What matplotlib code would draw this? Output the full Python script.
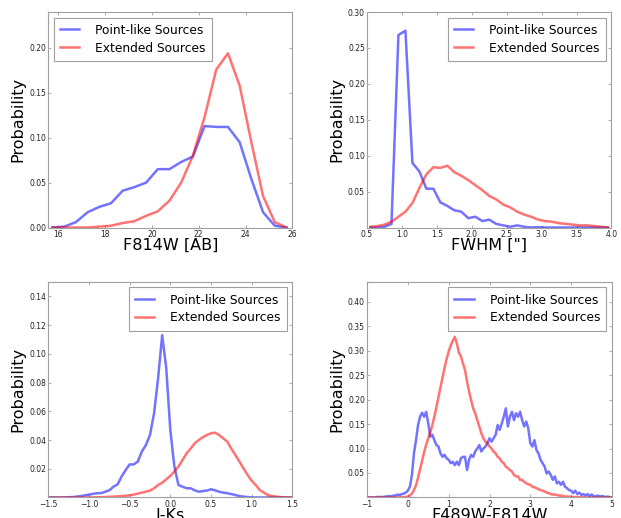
import numpy as np
from matplotlib import pyplot as plt

# F814W magnitude histogram
mag_bins = [15.75, 16.25, 16.75, 17.25, 17.75, 18.25, 18.75, 19.25, 19.75, 20.25, 20.75,
            21.25, 21.75, 22.25, 22.75, 23.25, 23.75, 24.25, 24.75, 25.25, 25.75]
mag_point = [0.0, 0.001, 0.006, 0.017, 0.023, 0.027, 0.041, 0.045, 0.050, 0.065, 0.065,
             0.073, 0.079, 0.113, 0.112, 0.112, 0.095, 0.054, 0.017, 0.002, 0.0]
mag_ext = [0.0, 0.0, 0.0, 0.0, 0.001, 0.002, 0.005, 0.007, 0.013, 0.018, 0.030,
           0.050, 0.080, 0.123, 0.176, 0.194, 0.158, 0.095, 0.035, 0.006, 0.0]

# FWHM histogram, bins of 0.1" from 0.5 to 4.0
fwhm_bins = np.linspace(0.55, 3.95, 35)
fwhm_point = [0.0, 0.0, 0.001, 0.005, 0.268,
              0.274, 0.090, 0.078, 0.054, 0.054, 0.035, 0.030, 0.024, 0.022, 0.013,
              0.015, 0.009, 0.011, 0.005, 0.003, 0.001, 0.003, 0.001, 0.0, 0.0005,
              0.0, 0.0, 0.0, 0.0, 0.0, 0.0, 0.0, 0.0, 0.0, 0.0]
fwhm_ext = [0.001, 0.002, 0.004, 0.008, 0.015,
            0.022, 0.034, 0.055, 0.074, 0.084, 0.083, 0.086, 0.077, 0.072, 0.066,
            0.059, 0.052, 0.044, 0.039, 0.032, 0.028, 0.022, 0.018, 0.015, 0.011,
            0.009, 0.008, 0.006, 0.005, 0.004, 0.003, 0.003, 0.002, 0.001, 0.0]

# I-Ks colour histogram, bins of 0.05 from -1.5 to 1.5
iks_bins = np.linspace(-1.5, 1.5, 61)
iks_point = [0.0, 0.0, 0.0, 0.0, 0.0, 0.0002, 0.0003, 0.0006, 0.001, 0.0015, 0.002,
             0.0025, 0.003, 0.003, 0.004, 0.005, 0.0075, 0.009, 0.0145, 0.019, 0.023,
             0.023, 0.025, 0.032, 0.0365, 0.0435, 0.0585, 0.083, 0.113, 0.090, 0.047,
             0.0215, 0.0087, 0.0075, 0.0064, 0.0064, 0.005, 0.004, 0.0045, 0.0048, 0.0057,
             0.005, 0.004, 0.0034, 0.003, 0.0024, 0.0017, 0.001, 0.0006, 0.0003, 0.0,
             0.0, 0.0, 0.0, 0.0, 0.0, 0.0, 0.0, 0.0, 0.0, 0.0]
iks_ext = [0.0, 0.0, 0.0, 0.0, 0.0, 0.0, 0.0, 0.0, 0.0, 0.0, 0.0001,
           0.0001, 0.0002, 0.0002, 0.0003, 0.0005, 0.0006, 0.0008, 0.001, 0.0012, 0.0015,
           0.002, 0.0027, 0.0034, 0.004, 0.0048, 0.0064, 0.0087, 0.0103, 0.0126, 0.015,
           0.018, 0.0215, 0.026, 0.0307, 0.034, 0.0377, 0.040, 0.042, 0.0435, 0.0447,
           0.0451, 0.0435, 0.0412, 0.0389, 0.034, 0.0296, 0.025, 0.0203, 0.0157, 0.0117,
           0.0087, 0.0052, 0.0034, 0.0017, 0.001, 0.0006, 0.0003, 0.0, 0.0, 0.0]

# F489W-F814W colour histogram, bins of 0.05 from -1 to 5
col_bins = np.linspace(-1.0, 5.0, 121)
col_point = [0.0, 0.0, 0.0, 0.0, 0.0, 0.001, 0.001, 0.001, 0.001, 0.002,
             0.002, 0.003, 0.002, 0.004, 0.004, 0.006, 0.005, 0.007, 0.008, 0.010,
             0.014, 0.022, 0.046, 0.090, 0.117, 0.148, 0.165, 0.173, 0.165, 0.175,
             0.151, 0.124, 0.128, 0.117, 0.107, 0.104, 0.090, 0.083, 0.087, 0.080,
             0.077, 0.070, 0.073, 0.066, 0.073, 0.066, 0.080, 0.083, 0.083, 0.056,
             0.077, 0.087, 0.083, 0.094, 0.100, 0.107, 0.094, 0.100, 0.104, 0.111,
             0.121, 0.114, 0.121, 0.128, 0.148, 0.138, 0.151, 0.165, 0.182, 0.145,
             0.165, 0.175, 0.158, 0.172, 0.165, 0.175, 0.158, 0.145, 0.155, 0.141,
             0.111, 0.104, 0.117, 0.097, 0.090, 0.077, 0.070, 0.063, 0.049, 0.053,
             0.046, 0.036, 0.043, 0.029, 0.032, 0.026, 0.032, 0.022, 0.019, 0.015,
             0.014, 0.009, 0.014, 0.007, 0.010, 0.005, 0.007, 0.004, 0.007, 0.003,
             0.006, 0.003, 0.002, 0.004, 0.002, 0.003, 0.002, 0.001, 0.002, 0.0,
             0.0]
col_ext = [0.0, 0.0, 0.0, 0.0, 0.0, 0.0, 0.0, 0.0, 0.0, 0.0,
           0.0, 0.0, 0.0, 0.0, 0.0, 0.0, 0.0005, 0.0005, 0.001, 0.001,
           0.002, 0.004, 0.008, 0.015, 0.025, 0.040, 0.058, 0.075, 0.093, 0.108,
           0.121, 0.133, 0.148, 0.165, 0.185, 0.205, 0.225, 0.245, 0.265, 0.283,
           0.298, 0.310, 0.320, 0.328, 0.315, 0.296, 0.288, 0.274, 0.260, 0.237,
           0.216, 0.199, 0.182, 0.172, 0.158, 0.145, 0.131, 0.121, 0.114, 0.111,
           0.104, 0.100, 0.094, 0.090, 0.083, 0.080, 0.073, 0.070, 0.063, 0.060,
           0.056, 0.053, 0.046, 0.043, 0.043, 0.036, 0.036, 0.032, 0.029, 0.027,
           0.026, 0.022, 0.021, 0.019, 0.017, 0.015, 0.014, 0.012, 0.010, 0.009,
           0.007, 0.006, 0.006, 0.005, 0.004, 0.004, 0.003, 0.002, 0.002, 0.002,
           0.001, 0.001, 0.001, 0.001, 0.0005, 0.0005, 0.0, 0.0, 0.0, 0.0,
           0.0, 0.0, 0.0, 0.0, 0.0, 0.0, 0.0, 0.0, 0.0, 0.0,
           0.0]

frame_color = "#a0a0a0"


def draw_panel(rect, x, point, ext, xlim, ylim, xticks, yticks, xfmt, yfmt, xlabel, legend_loc):
    ax = fig.add_axes(rect)
    ax.plot(x, point, color="b", alpha=0.55, lw=1.8, label="Point-like Sources")
    ax.plot(x, ext, color="r", alpha=0.55, lw=1.8, label="Extended Sources")
    ax.set_xlim(*xlim)
    ax.set_ylim(*ylim)
    ax.set_xticks(xticks)
    ax.set_xticklabels([xfmt.format(v).replace("-", "\u2212") for v in xticks])
    ax.set_yticks(yticks)
    ax.set_yticklabels([yfmt.format(v) for v in yticks])
    for spine in ax.spines.values():
        spine.set_color(frame_color)
        spine.set_linewidth(0.8)
    ax.tick_params(direction="in", top=True, right=True, length=2.5, width=0.6,
                   color=frame_color, labelsize=5.5, labelcolor="#222222", pad=1.5)
    ax.set_xlabel(xlabel, fontsize=11.5)
    ax.set_ylabel("Probability", fontsize=11.5)
    ax.xaxis.set_label_coords(0.5, -0.05)
    ax.yaxis.set_label_coords(-0.092, 0.5)
    leg = ax.legend(loc=legend_loc, fontsize=8.8, fancybox=False, framealpha=1,
                    handlelength=1.6, handletextpad=1.3, borderpad=0.5,
                    labelspacing=0.4, borderaxespad=0.45)
    leg.get_frame().set_edgecolor(frame_color)
    leg.get_frame().set_linewidth(0.8)
    return ax


fig = plt.figure(figsize=(6.21, 5.18), dpi=100)

draw_panel([0.0778, 0.5608, 0.3929, 0.4160], mag_bins, mag_point, mag_ext,
           (15.57, 26.0), (0.0, 0.24), [16, 18, 20, 22, 24, 26],
           [0.0, 0.05, 0.10, 0.15, 0.20], "{:d}", "{:.2f}", "F814W [AB]", "upper left")
draw_panel([0.5910, 0.5608, 0.3937, 0.4160], fwhm_bins, fwhm_point, fwhm_ext,
           (0.5, 4.0), (0.0, 0.30), [0.5, 1.0, 1.5, 2.0, 2.5, 3.0, 3.5, 4.0],
           [0.05, 0.10, 0.15, 0.20, 0.25, 0.30], "{:.1f}", "{:.2f}", "FWHM [\"]", "upper right")
draw_panel([0.0778, 0.0396, 0.3929, 0.4160], iks_bins, iks_point, iks_ext,
           (-1.5, 1.5), (0.0, 0.15), [-1.5, -1.0, -0.5, 0.0, 0.5, 1.0, 1.5],
           [0.02, 0.04, 0.06, 0.08, 0.10, 0.12, 0.14], "{:.1f}", "{:.2f}", "I-Ks", "upper right")
draw_panel([0.5910, 0.0396, 0.3945, 0.4160], col_bins, col_point, col_ext,
           (-1.0, 5.0), (0.0, 0.44), [-1, 0, 1, 2, 3, 4, 5],
           [0.05, 0.10, 0.15, 0.20, 0.25, 0.30, 0.35, 0.40], "{:d}", "{:.2f}", "F489W-F814W", "upper right")

fig.savefig("out.png", dpi=100, facecolor="white")
